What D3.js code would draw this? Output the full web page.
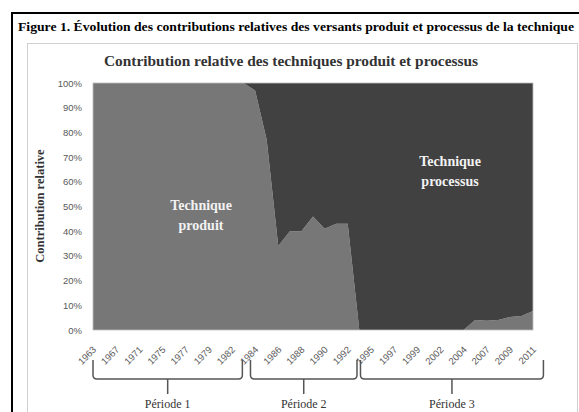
<!DOCTYPE html>
<html>
<head>
<meta charset="utf-8">
<script src="https://cdnjs.cloudflare.com/ajax/libs/d3/7.8.5/d3.min.js"></script>
<style>
  html, body { margin: 0; padding: 0; background: #fff; }
  svg { display: block; }
</style>
</head>
<body>
<svg id="chart"></svg>
<script>
(function () {
  'use strict';

  // categories (only every other one gets a label on the axis)
  var years = [1963, 1965, 1967, 1969, 1971, 1973, 1975, 1976, 1977, 1978,
               1979, 1981, 1982, 1983, 1984, 1985, 1986, 1987, 1988, 1989,
               1990, 1991, 1992, 1994, 1995, 1996, 1997, 1998, 1999, 2001,
               2002, 2003, 2004, 2006, 2007, 2008, 2009, 2010, 2011];

  // share of "technique produit" (%), processus is the rest
  var produit = [100, 100, 100, 100, 100, 100, 100, 100, 100, 100,
                 100, 100, 100, 100, 97, 77, 34, 40, 40, 46,
                 41, 43, 43, 0, 0, 0, 0, 0, 0, 0,
                 0, 0, 0, 4, 3.7, 4, 5.3, 5.7, 7.7];
  var processus = produit.map(function (v) { return 100 - v; });

  var yTicks = [0, 10, 20, 30, 40, 50, 60, 70, 80, 90, 100];

  var periods = [
    { name: 'Période 1', from: 0, to: 12.9 },
    { name: 'Période 2', from: 13.6, to: 22.8 },
    { name: 'Période 3', from: 23.1, to: 38.9 }
  ];

  var W = 579, H = 412;
  var plot = { left: 93, right: 533, top: 83, bottom: 330 };

  var svg = d3.select('#chart').attr('width', W).attr('height', H);

  // frames
  svg.append('rect')
    .attr('x', 12).attr('y', 13)
    .attr('width', 600).attr('height', 500)
    .attr('fill', 'none').attr('stroke', '#000').attr('stroke-width', 2);

  svg.append('rect')
    .attr('x', 27.5).attr('y', 43.5)
    .attr('width', 550).attr('height', 500)
    .attr('fill', 'none').attr('stroke', '#d0d0d0').attr('stroke-width', 1);

  svg.append('text')
    .attr('x', 296).attr('y', 31)
    .attr('text-anchor', 'middle')
    .attr('textLength', 556).attr('lengthAdjust', 'spacingAndGlyphs')
    .style('font-family', '"Liberation Serif", serif')
    .style('font-weight', 'bold')
    .style('font-size', '12.5px')
    .text('Figure 1. Évolution des contributions relatives des versants produit et processus de la technique');

  svg.append('text')
    .attr('x', 291).attr('y', 66)
    .attr('text-anchor', 'middle')
    .attr('textLength', 374).attr('lengthAdjust', 'spacingAndGlyphs')
    .style('font-family', '"Liberation Serif", serif')
    .style('font-weight', 'bold')
    .style('font-size', '15.5px')
    .style('fill', '#333')
    .text('Contribution relative des techniques produit et processus');

  var x = d3.scaleLinear().domain([0, years.length - 1]).range([plot.left, plot.right]);
  var y = d3.scaleLinear().domain([0, 100]).range([plot.bottom, plot.top]);

  var rows = years.map(function (yr, i) {
    return { i: i, produit: produit[i], processus: processus[i] };
  });
  var stack = d3.stack().keys(['produit', 'processus']);
  var layers = stack(rows);
  var colors = { produit: '#777777', processus: '#414141' };

  var area = d3.area()
    .x(function (d) { return x(d.data.i); })
    .y0(function (d) { return y(d[0]); })
    .y1(function (d) { return y(d[1]); });

  svg.append('g').selectAll('path')
    .data(layers)
    .enter()
    .append('path')
    .attr('d', area)
    .attr('fill', function (d) { return colors[d.key]; });

  // plot outline (faint)
  svg.append('rect')
    .attr('x', plot.left).attr('y', plot.top)
    .attr('width', plot.right - plot.left).attr('height', plot.bottom - plot.top)
    .attr('fill', 'none').attr('stroke', '#bdbdbd').attr('stroke-width', 0.8);

  // y axis
  var yAxis = d3.axisLeft(y)
    .tickValues(yTicks)
    .tickSize(0)
    .tickPadding(0)
    .tickFormat(function (d) { return d + '%'; });
  var gy = svg.append('g').attr('transform', 'translate(82,0)').call(yAxis);
  gy.select('.domain').remove();
  gy.selectAll('text')
    .style('font-family', '"Liberation Sans", sans-serif')
    .style('font-size', '9.5px')
    .style('fill', '#595959');

  svg.append('text')
    .attr('transform', 'translate(44,206) rotate(-90)')
    .attr('text-anchor', 'middle')
    .style('font-family', '"Liberation Serif", serif')
    .style('font-weight', 'bold')
    .style('font-size', '12.5px')
    .style('fill', '#333')
    .text('Contribution relative');

  // x axis labels, every other category
  var labelIdx = years.map(function (d, i) { return i; }).filter(function (i) { return i % 2 === 0; });
  var xAxis = d3.axisBottom(x)
    .tickValues(labelIdx)
    .tickSize(0)
    .tickPadding(0)
    .tickFormat(function (i) { return years[i]; });
  var gx = svg.append('g').attr('transform', 'translate(0,' + plot.bottom + ')').call(xAxis);
  gx.select('.domain').remove();
  gx.selectAll('text')
    .attr('text-anchor', 'end')
    .attr('dy', '0.35em')
    .attr('transform', 'translate(1,18) rotate(-45)')
    .style('font-family', '"Liberation Sans", sans-serif')
    .style('font-size', '9.5px')
    .style('fill', '#595959');

  // area labels
  function areaLabel(cx, cy, lines, fill) {
    var t = svg.append('text')
      .attr('text-anchor', 'middle')
      .style('font-family', '"Liberation Serif", serif')
      .style('font-weight', 'bold')
      .style('font-size', '14px')
      .style('fill', fill);
    lines.forEach(function (l, k) {
      t.append('tspan').attr('x', cx).attr('y', cy + k * 20).text(l);
    });
  }
  areaLabel(201, 210, ['Technique', 'produit'], '#f2f2f2');
  areaLabel(450, 166, ['Technique', 'processus'], '#f2f2f2');

  // period brackets
  var top = 360, hy = 379, r = 4;
  var gp = svg.append('g').selectAll('g')
    .data(periods)
    .enter()
    .append('g');
  gp.append('path')
    .attr('d', function (p) {
      var x0 = x(p.from), x1 = x(p.to), xm = (x0 + x1) / 2;
      return 'M' + x0 + ',' + top +
        'L' + x0 + ',' + (hy - r) +
        'Q' + x0 + ',' + hy + ' ' + (x0 + r) + ',' + hy +
        'L' + (x1 - r) + ',' + hy +
        'Q' + x1 + ',' + hy + ' ' + x1 + ',' + (hy - r) +
        'L' + x1 + ',' + top +
        'M' + xm + ',' + hy + 'L' + xm + ',' + (hy + 15);
    })
    .attr('fill', 'none')
    .attr('stroke', '#555')
    .attr('stroke-width', 1.5);
  gp.append('text')
    .attr('x', function (p) { return (x(p.from) + x(p.to)) / 2; })
    .attr('y', 408)
    .attr('text-anchor', 'middle')
    .style('font-family', '"Liberation Serif", serif')
    .style('font-size', '12px')
    .style('fill', '#333')
    .text(function (p) { return p.name; });
} ());
</script>
</body>
</html>
